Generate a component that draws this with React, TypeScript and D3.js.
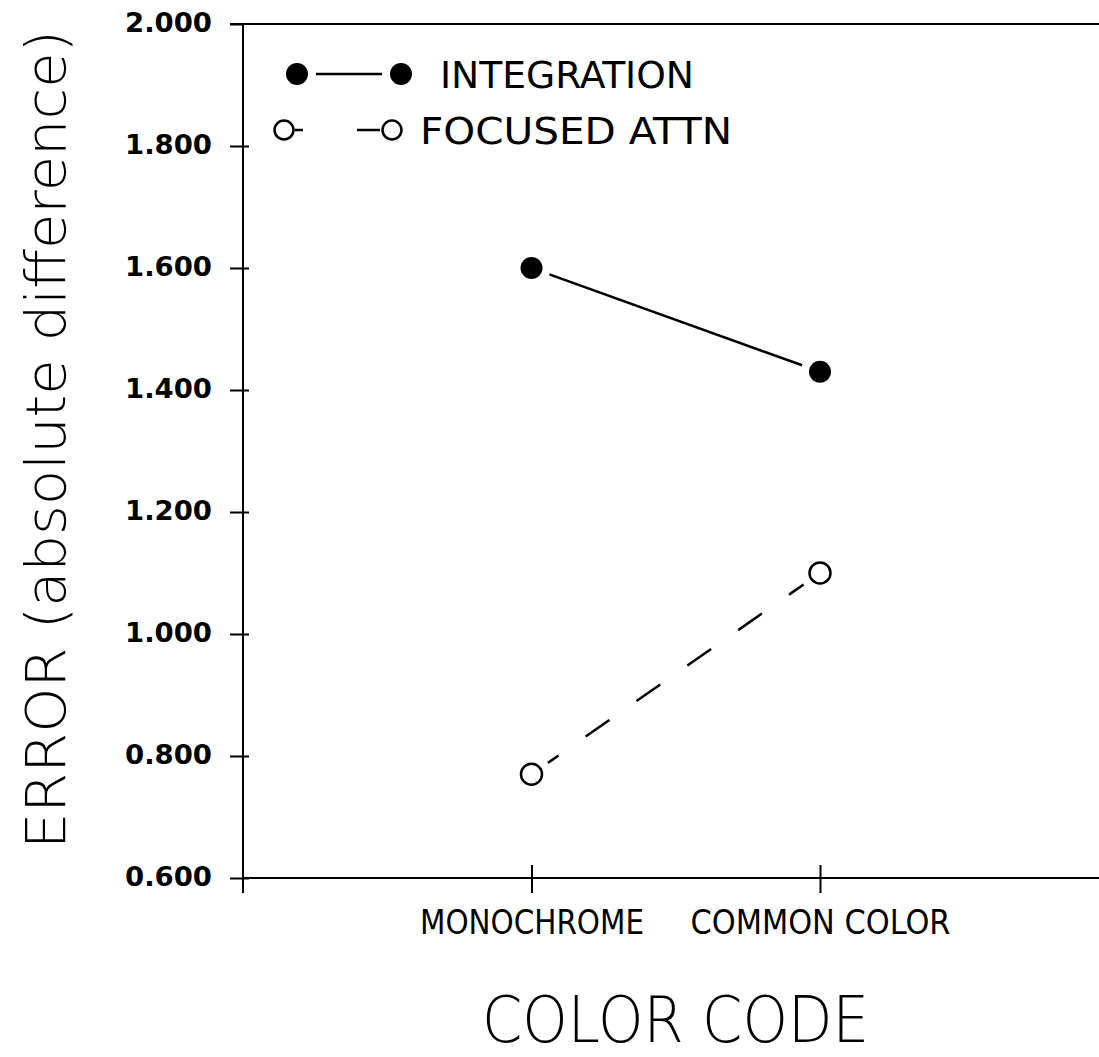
import React, { useEffect, useRef } from "react";
import * as d3 from "d3";

// Conditions on the x axis and the mean error for each attention condition
const categories = ["MONOCHROME", "COMMON COLOR"];
const integration = [1.6, 1.43];
const focused = [0.77, 1.1];
const yTicks = [0.6, 0.8, 1.0, 1.2, 1.4, 1.6, 1.8, 2.0];
const seriesNames = ["INTEGRATION", "FOCUSED ATTN"];

const W = 1099;
const H = 1057;
const X0 = 243;
const X1 = 1108.5;
const YTOP = 24;
const YBOT = 878;

const NARROW = "'Liberation Sans Narrow', 'DejaVu Sans Condensed', 'Arial Narrow', sans-serif";
const THIN = "'DejaVu Sans', sans-serif";

// Pull a segment's end points toward each other so the line stops short of the markers
function shorten(p: [number, number], q: [number, number], gap: number): [[number, number], [number, number]] {
  const dx = q[0] - p[0];
  const dy = q[1] - p[1];
  const len = Math.hypot(dx, dy);
  const ux = dx / len;
  const uy = dy / len;
  return [
    [p[0] + ux * gap, p[1] + uy * gap],
    [q[0] - ux * gap, q[1] - uy * gap],
  ];
}

export default function App() {
  const ref = useRef<SVGSVGElement>(null);

  useEffect(() => {
    const svg = d3.select(ref.current);
    svg.selectAll("*").remove();

    const x = d3.scalePoint<string>().domain(categories).range([X0, X1]).padding(1);
    const y = d3.scaleLinear().domain([0.6, 2.0]).range([YBOT, YTOP]);

    const ink = "#000";

    // frame: top rule and the two axis lines
    svg.append("line").attr("x1", X0 - 13).attr("x2", W).attr("y1", YTOP).attr("y2", YTOP)
      .attr("stroke", ink).attr("stroke-width", 2);
    svg.append("line").attr("x1", X0).attr("x2", X0).attr("y1", YTOP).attr("y2", YBOT + 15)
      .attr("stroke", ink).attr("stroke-width", 2);
    svg.append("line").attr("x1", X0).attr("x2", W).attr("y1", YBOT).attr("y2", YBOT)
      .attr("stroke", ink).attr("stroke-width", 2);

    // y axis
    const yAxis = svg.append("g").attr("transform", `translate(${X0},0)`)
      .call(d3.axisLeft(y).tickValues(yTicks).tickSize(13).tickSizeOuter(0).tickPadding(18)
        .tickFormat((d) => d3.format(".3f")(d as number)));
    yAxis.select(".domain").remove();
    yAxis.selectAll(".tick line").attr("stroke", ink).attr("stroke-width", 2);
    yAxis.selectAll(".tick").filter((d) => (d as number) < 2.0)
      .append("line").attr("x1", 0).attr("x2", 6).attr("stroke", ink).attr("stroke-width", 2);
    yAxis.selectAll(".tick text")
      .attr("font-family", THIN).attr("font-weight", "bold").attr("font-size", 27)
      .attr("fill", ink).attr("dy", "0.28em")
      .attr("textLength", 87).attr("lengthAdjust", "spacingAndGlyphs");

    // x axis
    const xAxis = svg.append("g").attr("transform", `translate(0,${YBOT})`)
      .call(d3.axisBottom(x).tickSize(15).tickSizeOuter(0).tickPadding(0));
    xAxis.select(".domain").remove();
    xAxis.selectAll(".tick line").attr("stroke", ink).attr("stroke-width", 2);
    xAxis.selectAll(".tick").append("line").attr("y1", 0).attr("y2", -13)
      .attr("stroke", ink).attr("stroke-width", 2);
    const catWidths: Record<string, number> = { MONOCHROME: 224, "COMMON COLOR": 260 };
    xAxis.selectAll(".tick text")
      .attr("y", 56).attr("dy", 0)
      .attr("font-family", NARROW).attr("font-size", 33).attr("fill", ink)
      .attr("textLength", (d) => catWidths[d as string])
      .attr("lengthAdjust", "spacingAndGlyphs");

    // axis titles
    svg.append("text")
      .attr("transform", `translate(65,${(30 + 849) / 2}) rotate(-90)`)
      .attr("text-anchor", "middle")
      .attr("font-family", THIN).attr("font-weight", 200).attr("font-size", 55)
      .attr("fill", ink)
      .attr("textLength", 819).attr("lengthAdjust", "spacingAndGlyphs")
      .text("ERROR (absolute difference)");

    svg.append("text")
      .attr("x", (482 + 869) / 2).attr("y", 1042)
      .attr("text-anchor", "middle")
      .attr("font-family", THIN).attr("font-weight", 200).attr("font-size", 64)
      .attr("fill", ink)
      .attr("textLength", 387).attr("lengthAdjust", "spacingAndGlyphs")
      .text("COLOR CODE");

    // series lines
    const pts = (vals: number[]) => categories.map((c, i) => [x(c) as number, y(vals[i])] as [number, number]);
    const line = d3.line<[number, number]>();

    const ip = pts(integration);
    svg.append("path").attr("d", line(shorten(ip[0], ip[1], 19)))
      .attr("fill", "none").attr("stroke", ink).attr("stroke-width", 2.5);

    const fp = pts(focused);
    svg.append("path").attr("d", line(shorten(fp[0], fp[1], 20)))
      .attr("fill", "none").attr("stroke", ink).attr("stroke-width", 2.5)
      .attr("stroke-dasharray", "29 33").attr("stroke-dashoffset", 16);

    // markers
    svg.append("g").selectAll("circle").data(ip).join("circle")
      .attr("cx", (d) => d[0]).attr("cy", (d) => d[1]).attr("r", 11).attr("fill", ink);
    svg.append("g").selectAll("circle").data(fp).join("circle")
      .attr("cx", (d) => d[0]).attr("cy", (d) => d[1]).attr("r", 10.5)
      .attr("fill", "#fff").attr("stroke", ink).attr("stroke-width", 2.5);

    // legend
    const lg = svg.append("g");
    lg.append("circle").attr("cx", 297).attr("cy", 74).attr("r", 11).attr("fill", ink);
    lg.append("circle").attr("cx", 401).attr("cy", 74).attr("r", 11).attr("fill", ink);
    lg.append("line").attr("x1", 316).attr("x2", 382).attr("y1", 74).attr("y2", 74)
      .attr("stroke", ink).attr("stroke-width", 2.5);
    lg.append("text").attr("x", 440).attr("y", 88)
      .attr("font-family", NARROW).attr("font-size", 37).attr("fill", ink)
      .attr("textLength", 254).attr("lengthAdjust", "spacingAndGlyphs")
      .text(seriesNames[0]);

    lg.append("circle").attr("cx", 284).attr("cy", 130).attr("r", 9.5)
      .attr("fill", "#fff").attr("stroke", ink).attr("stroke-width", 2.5);
    lg.append("circle").attr("cx", 392).attr("cy", 130).attr("r", 9.5)
      .attr("fill", "#fff").attr("stroke", ink).attr("stroke-width", 2.5);
    lg.append("line").attr("x1", 295).attr("x2", 303).attr("y1", 130).attr("y2", 130)
      .attr("stroke", ink).attr("stroke-width", 2.5);
    lg.append("line").attr("x1", 357).attr("x2", 380).attr("y1", 130).attr("y2", 130)
      .attr("stroke", ink).attr("stroke-width", 2.5);
    lg.append("text").attr("x", 420).attr("y", 144)
      .attr("font-family", NARROW).attr("font-size", 37).attr("fill", ink)
      .attr("textLength", 312).attr("lengthAdjust", "spacingAndGlyphs")
      .text(seriesNames[1]);
  }, []);

  return (
    <svg
      ref={ref}
      width={W}
      height={H}
      style={{ position: "absolute", left: 0, top: 0, background: "#fff" }}
    />
  );
}
